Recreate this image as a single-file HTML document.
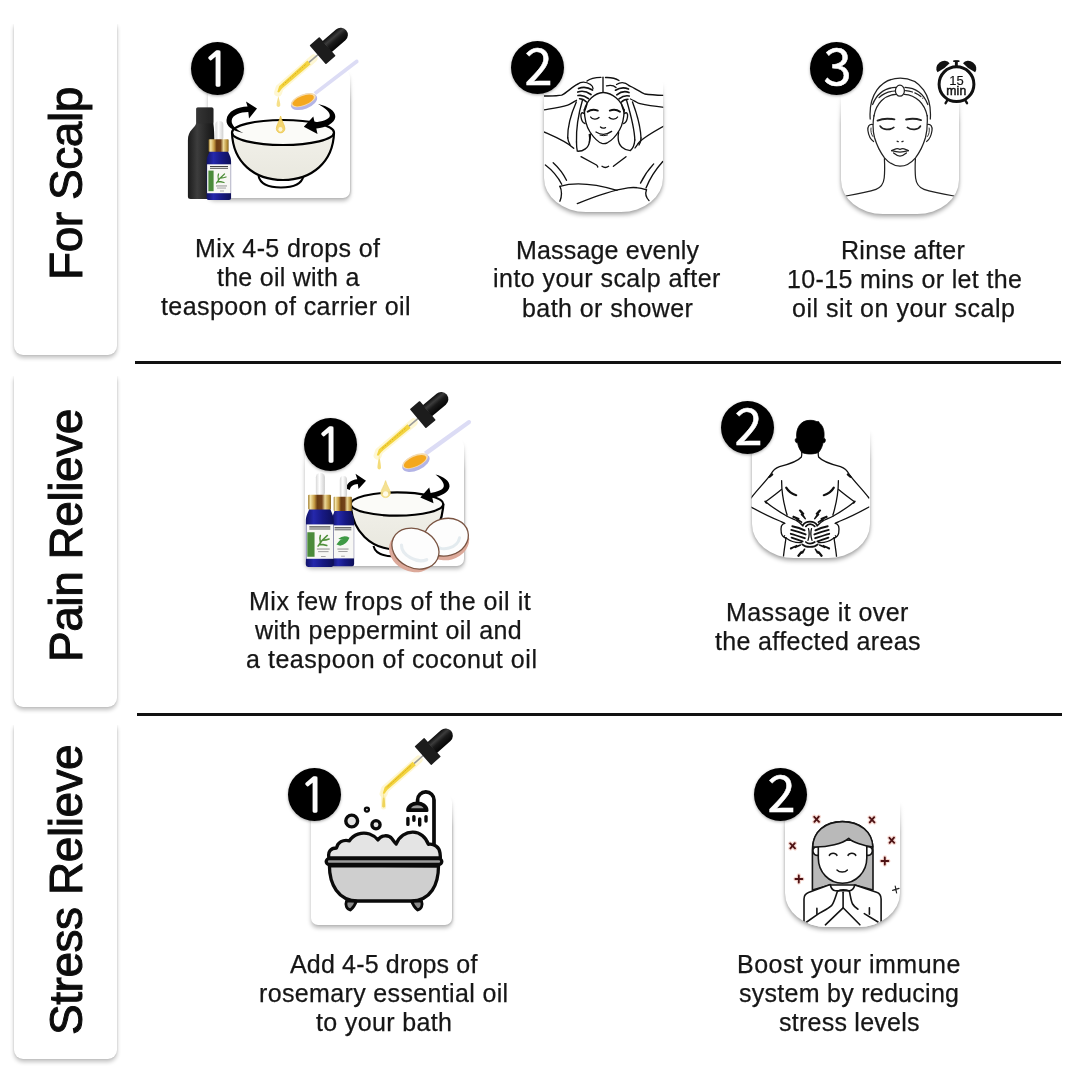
<!DOCTYPE html>
<html lang="en"><head><meta charset="utf-8"><title>How to use rosemary oil</title>
<style>
html,body{margin:0;padding:0;background:#fff}
body{width:1080px;height:1080px;position:relative;overflow:hidden;font-family:"Liberation Sans",Arial,sans-serif;color:#111}
.panel{position:absolute;left:14px;width:103px;background:#fff;border-radius:0 0 9px 9px;box-shadow:0 3px 4px rgba(0,0,0,.24),0 0 2px rgba(0,0,0,.13)}
.panel:before{content:"";position:absolute;left:-8px;right:-8px;top:-10px;height:10px;background:#fff}
.vl{will-change:transform;position:absolute;left:65px;white-space:nowrap;font-size:46px;line-height:46px;letter-spacing:-0.45px;transform-origin:0 0;transform:rotate(-90deg);color:#0c0c0c;-webkit-text-stroke:1px #0c0c0c}
.hr{position:absolute;height:3px;background:#111}
.t{position:absolute;white-space:nowrap;will-change:transform;font-size:25.0px;line-height:30px;color:#161616;-webkit-text-stroke:.25px #161616}
.num{position:absolute;width:53px;height:53px;border-radius:50%;background:#000;color:#fff;text-align:center;box-shadow:0 1px 3px rgba(0,0,0,.35)}
.num span{will-change:transform;position:absolute;left:0;width:53px;text-align:center;white-space:nowrap}
.n1 span{font-family:"NanumGothic","Liberation Sans",sans-serif;font-size:46.5px;line-height:53px;top:1.2px;margin-left:-.7px;opacity:.99;-webkit-text-stroke:1.6px #fff}
.n2 span,.n3 span{font-family:"Noto Sans CJK JP","Liberation Sans",sans-serif;font-size:50.5px;line-height:53px;top:-4.2px;margin-left:.8px;-webkit-text-stroke:.5px #fff}
.card{position:absolute;background:#fff}
.card:after{content:"";position:absolute;left:-8px;right:-8px;top:-8px;height:40px;background:linear-gradient(#fff 9px,rgba(255,255,255,0))}
.card.sq{border-radius:7px;box-shadow:0 3px 4px rgba(0,0,0,.27),1px 0 2px rgba(0,0,0,.16)}
.card.rd{border-radius:4px 4px 42px 42px / 4px 4px 34px 34px;box-shadow:0 3px 4px rgba(0,0,0,.30),0 0 3px rgba(0,0,0,.16)}
.ill{will-change:transform;position:absolute;left:0;top:0;width:1080px;height:1080px;pointer-events:none}
</style></head><body>
<div class="panel" style="top:24px;height:331px"></div>
<div class="panel" style="top:376px;height:331px"></div>
<div class="panel" style="top:725px;height:334px"></div>
<div class="vl" id="v1" style="top:280px;margin-left:-22.5px">For Scalp</div>
<div class="vl" id="v2" style="top:662px;margin-left:-22.5px">Pain Relieve</div>
<div class="vl" id="v3" style="top:1035px;margin-left:-22.5px">Stress Relieve</div>
<div class="hr" style="left:135px;width:926px;top:361px"></div>
<div class="hr" style="left:137px;width:925px;top:712.8px"></div>
<div class="card sq" style="left:208px;top:70px;width:142.3px;height:128.3px"></div><div class="card rd" style="left:544px;top:80px;width:119.2px;height:132.2px"></div><div class="card rd" style="left:840.7px;top:92px;width:118.6px;height:121.6px"></div><div class="card sq" style="left:305px;top:439px;width:159.3px;height:127.0px"></div><div class="card rd" style="left:751.5px;top:428px;width:118.0px;height:129.6px"></div><div class="card sq" style="left:310.5px;top:795px;width:141.9px;height:129.5px"></div><div class="card rd" style="left:785px;top:800px;width:115.2px;height:127.0px"></div>
<svg class="ill" viewBox="0 0 1080 1080">
<defs>
<linearGradient id="gBulb" x1="0" y1="0" x2="0" y2="1"><stop offset="0" stop-color="#0c0c0c"/><stop offset=".3" stop-color="#3c3c3c"/><stop offset=".55" stop-color="#1a1a1a"/><stop offset="1" stop-color="#050505"/></linearGradient>
<linearGradient id="gBlk" x1="0" y1="0" x2="1" y2="0"><stop offset="0" stop-color="#1b1b1b"/><stop offset=".35" stop-color="#3d3d3d"/><stop offset=".7" stop-color="#262626"/><stop offset="1" stop-color="#141414"/></linearGradient>
<linearGradient id="gBlue" x1="0" y1="0" x2="1" y2="0"><stop offset="0" stop-color="#121468"/><stop offset=".28" stop-color="#2528ac"/><stop offset=".6" stop-color="#171984"/><stop offset="1" stop-color="#0e1058"/></linearGradient>
<linearGradient id="gGold" x1="0" y1="0" x2="1" y2="0"><stop offset="0" stop-color="#a07a28"/><stop offset=".1" stop-color="#f3e4a8"/><stop offset=".27" stop-color="#c79c44"/><stop offset=".4" stop-color="#6a3c12"/><stop offset=".6" stop-color="#74431a"/><stop offset=".74" stop-color="#ecd898"/><stop offset=".9" stop-color="#bf9840"/><stop offset="1" stop-color="#86641f"/></linearGradient>
<linearGradient id="gWht" x1="0" y1="0" x2="1" y2="0"><stop offset="0" stop-color="#d8d8d8"/><stop offset=".4" stop-color="#ffffff"/><stop offset="1" stop-color="#cfcfcf"/></linearGradient>
<linearGradient id="gBowl" x1="0" y1="0" x2="0" y2="1"><stop offset="0" stop-color="#f1f0e9"/><stop offset="1" stop-color="#e9e8df"/></linearGradient>
<g id="dropper">
  <path d="M-12,0 L-57,0 L-61,2.4" fill="none" stroke="#fdf3bd" stroke-width="8" stroke-linecap="round" opacity=".65"/>
  <path d="M-6,0 L-20,0" stroke="#9a9a9a" stroke-width="1.6"/>
  <path d="M-18,-2.4 L-56,-1.7 L-61.4,1.6 L-60.4,3 L-55.4,1.9 L-18,2.4 Z" fill="#f3d440"/>
  <path d="M-22,-0.6 L-54,-0.2" stroke="#dcae1c" stroke-width=".9" stroke-dasharray="2 1.2"/>
  <rect x="-6.5" y="-12.5" width="13" height="25" rx=".8" fill="#1c1c1c"/>
  <path d="M6,-7.2 H24 A7.2,7.2 0 0 1 24,7.2 H6 Z" fill="url(#gBulb)"/>
</g>
<g id="ebottle">
  <rect x="8.6" y="-79" width="7.8" height="20" rx="3.6" fill="url(#gWht)"/>
  <path d="M0,-38.5 C0,-44 2.6,-46.5 3,-49 H21 C21.4,-46.5 24,-44 24,-38.5 V-2 Q24,0 22,0 H2 Q0,0 0,-2 Z" fill="url(#gBlue)"/>
  <rect x="2" y="-60.8" width="19.6" height="12.4" rx=".8" fill="url(#gGold)"/>
  <rect x=".5" y="-35.8" width="23.2" height="28.9" fill="#f8f8f5"/>
</g>
</defs>

<defs><clipPath id="c2"><path d="M544,40 H663.2 V178.2 A42,34 0 0 1 621.2,212.2 H586 A42,34 0 0 1 544,178.2 Z"/></clipPath><clipPath id="c3"><path d="M840.7,52 H959.3 V179.6 A42,34 0 0 1 917.3,213.6 H882.7 A42,34 0 0 1 840.7,179.6 Z"/></clipPath><clipPath id="c5"><path d="M751.5,388 H869.5 V523.6 A42,34 0 0 1 827.5,557.6 H793.5 A42,34 0 0 1 751.5,523.6 Z"/></clipPath><clipPath id="c7"><path d="M785,760 H900.2 V893 A42,34 0 0 1 858.2,927 H827 A42,34 0 0 1 785,893 Z"/></clipPath></defs>
<g id="i1">
  <!-- black carrier bottle -->
  <path d="M196.2,109 Q196.2,107.4 197.8,107.4 H211.8 Q213.4,107.4 213.4,109 V124 C214,128 214.3,133 214.3,139 V196.6 Q214.3,199.1 211.5,199.1 H190.7 Q187.9,199.1 187.9,196.6 V140.5 C187.9,129.5 195.2,128.5 196.2,123 Z" fill="url(#gBlk)"/><rect x="196.2" y="107.4" width="17.2" height="16" rx="1.4" fill="#2e2e2e" opacity=".55"/>
  <!-- rosemary bottle -->
  <use href="#ebottle" transform="translate(206.6,200.1) scale(1.02,1)"/>
  <rect x="208.4" y="170.6" width="5.2" height="20.6" fill="#4b8b3b"/>
  <path d="M216.5,183 q3,-5 8,-9 M218.5,180 q-1,-4 0,-6 M220.5,178 q3,0 5.5,-1 M217.5,181.5 q3.5,0 6.5,1" stroke="#4f8f3a" stroke-width="1.3" fill="none" stroke-linecap="round"/>
  <rect x="210" y="166" width="18" height="1.1" fill="#444"/><rect x="210" y="167.9" width="18" height="1" fill="#666"/>
  <rect x="216" y="185.5" width="11" height=".9" fill="#888"/><rect x="217" y="187.6" width="9" height=".9" fill="#999"/><rect x="220" y="190.6" width="4" height=".8" fill="#999"/>
  <!-- bowl -->
  <path d="M258.5,176 Q261,187.5 281,187.5 Q301,187.5 303.5,176" fill="#fff" stroke="#000" stroke-width="2"/>
  <path d="M232,133 C233,162 254,180 283,180 C312,180 333,162 334,133 Z" fill="url(#gBowl)" stroke="#000" stroke-width="2.2" stroke-linejoin="round"/>
  <ellipse cx="283" cy="132.5" rx="51" ry="12.5" fill="#fbfbf8" stroke="#000" stroke-width="2.2"/>
  <!-- arrows -->
  <path d="M243.5,133 C232,131 226,126 226.5,120 C227,111 238,106.8 247.5,106.5 L246,101.5 L257,108.5 L249,118.5 L248.3,112 C240,112 232.3,115 231.7,120.5 C231.2,125 236,129.5 243.5,133 Z" fill="#000"/>
  <path d="M318,104 C328,106 335.8,111 335.3,117 C334.8,123 326,127.5 316.3,128.6 L317.5,134 L303.8,126.7 L313.3,116.5 L314.6,122.3 C322,121.5 329.3,119.5 329.8,116 C330.3,112 325,108 318,104 Z" fill="#000"/>
  <!-- drops -->
  <path d="M280.6,116 C279,122 276.3,125.5 276.3,128.6 A4.3,4.3 0 0 0 284.9,128.6 C284.9,125.5 282.2,122 280.6,116 Z" fill="#f3d36a" stroke="#e9c23c" stroke-width=".7" opacity=".95"/>
  <ellipse cx="280.4" cy="129.3" rx="2" ry="2.4" fill="#fdf6d8"/>
  <path d="M278.3,96 C277.6,100 276.4,103 276.6,105.5 A1.9,1.9 0 0 0 280.3,105.5 C280.5,103 279.2,100 278.3,96 Z" fill="#f6e08a"/>
  <!-- spoon -->
  <path d="M313.6,92.2 L355.8,59.8 Q357.8,59 358.4,60.8 Q358.8,62 358.2,62.8 L316,95 Z" fill="#dcdcf5"/>
  <g transform="translate(303.6,100.6) rotate(-21)">
    <ellipse cx="0" cy="1.2" rx="13.8" ry="7.2" fill="#b3b4e6"/>
    <ellipse cx="0" cy="-.6" rx="13" ry="5.8" fill="#f6dcae"/>
    <ellipse cx="-.3" cy="-.2" rx="11.3" ry="4.6" fill="#f4a81f"/>
  </g>
  <use href="#dropper" transform="translate(322.6,50.6) rotate(-41)"/>
</g>

<g id="i2" clip-path="url(#c2)" fill="none" stroke="#111" stroke-width="1.35" stroke-linecap="round" stroke-linejoin="round">
  <!-- top hair -->
  <path d="M603,77.2 V91.5"/>
  <path d="M601,77.3 C595,77.3 590,78.5 587,81"/>
  <path d="M605.5,77.5 C611,77.3 616,78.5 619,80.5"/>
  <path d="M606.5,85.8 C610,85 614,85.5 616,87.5"/>
  <!-- hairline & face -->
  <path d="M603,92.5 C595,93 586.5,100 584.3,110.5"/>
  <path d="M603.5,92.5 C612,93 621.5,100 624,110.5"/>
  <path d="M584.3,109.5 C584.5,120 586,126 590,132 C594,138 599,142.5 602,143.4 Q604.5,144 607,143 C611,141 616,136 619.5,130 C623,124 624,118 624.2,109.5"/>
  <!-- ears -->
  <path d="M584,113.5 C581.5,111.5 580.5,114 581,117 C581.5,120.5 583,123 585,123.5"/>
  <path d="M624.5,113.5 C627,111.5 628,114 627.5,117 C627,120.5 625.5,123 623.7,123.5"/>
  <!-- brows -->
  <path d="M587.6,111.8 C590.5,109.6 594.5,109.4 597.8,110.6" stroke-width="1.9"/>
  <path d="M609.8,110.6 C613,109.4 617,109.6 620,111.8" stroke-width="1.9"/>
  <!-- eyes -->
  <path d="M590.6,117 C592.2,119.6 597,119.8 599,117.5"/>
  <path d="M609.2,117.5 C611.2,119.8 616,119.6 617.6,117"/>
  <!-- nose, mouth -->
  <path d="M600.5,127 Q602.5,129 605.5,127.6"/>
  <path d="M596,132 Q603.8,137 611.6,131.4"/>
  <path d="M600,135.2 Q603.8,136.4 607.5,135" stroke-width="1"/>
  <!-- long hair strands -->
  <path d="M582.5,100 C579,112 576,128 576.5,142"/>
  <path d="M576.3,102 C571,114 567.5,128 567.7,138"/>
  <path d="M587,104 C586,108 585,110 584.3,112"/>
  <path d="M626.5,100 C630,112 634.5,128 634.8,140"/>
  <path d="M632.5,102 C637,114 640.5,126 641,138"/>
  <path d="M621.5,104 C622.5,108 623.5,110 624,112"/>
  <path d="M567.7,137.5 C568,141 569,143 570,144.6"/>
  <path d="M576.5,142 C576.5,146 576.8,149 577.3,151.2 C583,151.5 589,148 589.5,141 C589.8,138 589.6,136 589.3,134.5"/>
  <path d="M634.8,140 C634.5,144 633,148.5 630.3,150.6 C624,150 618.5,146 618.2,138.6 C618,136 618.3,134 618.6,132.5"/>
  <path d="M641,138 C641,141 640,143.5 639,145"/>
  <!-- neck -->
  <path d="M590.5,134 C590.5,138 590,140 589.4,142.2"/>
  <!-- left hand fingers -->
  <path d="M577.3,84.4 C581,81.5 586,81.5 590.5,84.5" />
  <path d="M578.5,88.5 C583,86.5 588.5,87.5 592.5,90" stroke-width="1.7"/>
  <path d="M577.8,92 C582,90.5 587.5,92 591,94.5" stroke-width="1.7"/>
  <path d="M578,95.5 C581.5,94.8 585.5,96.2 588.5,98.6" stroke-width="1.7"/>
  <path d="M579.5,98.8 C582,98.8 584.5,100 586.5,102" stroke-width="1.5"/>
  <path d="M590.5,84.5 C592,85.5 593,86.8 593,88.5"/>
  <!-- right hand fingers -->
  <path d="M629,85.6 C625,82 620.5,82 616.5,84.5"/>
  <path d="M628.5,89 C624,87 619,88 615.5,90.2" stroke-width="1.7"/>
  <path d="M629,92.5 C625,91 620,92.3 616.8,94.8" stroke-width="1.7"/>
  <path d="M629.2,96 C625.5,95.2 622,96.5 619,98.8" stroke-width="1.7"/>
  <path d="M628,99.3 C625.5,99.3 623,100.3 621.2,102.2" stroke-width="1.5"/>
  <!-- arms -->
  <path d="M577.3,84.4 C572,87 567,92.5 561.7,95.2 C556,96.3 550,96 543,96"/>
  <path d="M576.5,100.3 C573,102 570,104.5 567.7,105.2 C560,107.5 552,108.5 543,110"/>
  <path d="M629,85.6 C634,87.5 640,92 644.7,94 C651,95 657,95.2 665,95.4"/>
  <path d="M630.5,99 C634,100.5 637,103 640,103.7 C648,105.5 656,106.5 665,107.5"/>
  <!-- armpits -->
  <path d="M543,131.5 C552,135.5 566,141 573.7,148.2"/>
  <path d="M665,125.5 C655,131 643,138 639,142.5 C637,145 636,146.5 635,148"/>
  <!-- collarbones -->
  <path d="M581,156.7 L596.5,165 Q597.6,166 597.8,167"/>
  <path d="M626,156.7 L613.4,166.3"/>
  <path d="M602,166.3 Q605.3,168.6 608.6,166.3"/>
  <!-- sides -->
  <path d="M545.4,165 C552,170 558,177 561.7,184.3"/>
  <path d="M553.2,162.7 C559,168 563.5,174 566.5,180.3"/>
  <path d="M662.8,161.5 C656,169 650,178 646,188"/>
  <path d="M653.7,163.9 C648,170 644,176 640.5,183.1"/>
  <!-- towel -->
  <path d="M559.9,186.3 C575,182 597,184.5 617,190.4"/>
  <path d="M646.5,189.8 C640,187.5 634,187 628,187.8 C610,190.5 592,197.5 577.3,203.6"/>
  <path d="M559.9,186.3 C562,190 562,197 559.9,201.2"/>
  <path d="M646.5,189.8 C645.3,193 646,197.5 649,200.6"/>
</g>

<g id="i3" clip-path="url(#c3)" fill="none" stroke="#222" stroke-width="1.25" stroke-linecap="round" stroke-linejoin="round">
  <!-- head outline / headband -->
  <path d="M870.2,119 C868.5,96 880,78.2 900.3,78.2 C920.5,78.2 932,96 930.3,119"/>
  <path d="M872.6,104.5 C877,93.5 885.5,87.8 895.6,87.4"/>
  <path d="M905,87.4 C915,87.8 923.5,93.5 927.8,104.5"/>
  <path d="M879,97.6 C883,93.5 888.5,91.4 895,91"/>
  <path d="M905.6,90.6 C912,91.2 918.5,93.8 922.8,98.2" stroke-dasharray="7 2.5"/>
  <path d="M874,116 C876,103.5 884.5,95 896,94.3"/>
  <path d="M904.3,94.3 C916,95 924.8,103.5 927.2,116"/>
  <ellipse cx="899.9" cy="90.7" rx="4.5" ry="5.5" fill="#fff"/>
  <!-- face -->
  <path d="M874,115.5 C872.5,124 872.8,131 874.5,137.5 C877,146 880.5,152.5 884.5,157.8 C889,163 895,166.2 900,166.2 C905,166.2 911,163 915.5,157.8 C919.5,152.5 923,146 925.5,137.5 C927.2,131 927.6,124 927.2,115.5"/>
  <!-- ears -->
  <path d="M872.6,124.5 C869.5,123.5 867.4,126.5 867.9,130.5 C868.5,135 870.5,139.5 873.6,141.5"/>
  <path d="M927.6,124.5 C930.5,123.5 932.6,126.5 932,130.5 C931.4,135 929.5,139.5 926.6,141.5"/>
  <path d="M871,128 C870.5,131 871.3,134.5 872.8,136.5" stroke-width=".9"/>
  <path d="M929.2,128 C929.7,131 929,134.5 927.5,136.5" stroke-width=".9"/>
  <!-- brows -->
  <path d="M877.6,120.6 C882,118.6 888.5,118.3 894.4,119.4" stroke-width="1.9"/>
  <path d="M906.1,119.5 C911,118.4 916.5,118.6 921,120.1" stroke-width="1.9"/>
  <!-- eyes -->
  <path d="M880.2,126.1 C882.5,130 889.5,130.5 893.8,127.4" stroke-width="1.7"/>
  <path d="M907.4,127.4 C911.5,130.5 918.5,130 920.4,126.1" stroke-width="1.7"/>
  <!-- nose -->
  <path d="M897.2,141.3 l1,.3 M902,141.6 l1,-.3" stroke-width="1.4"/>
  <!-- lips -->
  <path d="M891.6,150.6 C894,149.8 895.5,148.6 897.2,148.6 Q898.8,148.6 900,149.4 Q901.2,148.6 902.8,148.6 C904.5,148.6 906,149.8 908.4,150.6"/>
  <path d="M891.6,150.6 C895,151.6 897.5,152 900,152 C902.5,152 905,151.6 908.4,150.6"/>
  <path d="M893.6,153 C896,155 898,156 900,156 C902,156 904,155 906.4,153"/>
  <!-- neck & shoulders -->
  <path d="M884.4,158.5 C884.8,166 884.8,172 884.2,178 C883.5,184 881,187.5 876,189.3 C868,192 856,194.2 846,196"/>
  <path d="M915.4,158.5 C915,166 915,172 915.6,178 C916.3,184 919,187.5 924,189.3 C932,192 944,194.2 954,196"/>
</g>
<g id="clock">
  <circle cx="956.3" cy="84.7" r="19.6" fill="#fff"/>
  <path d="M-7.6,0 A7.6,6.6 0 0 1 7.6,0 Q0,1.6 -7.6,0 Z" fill="#111" transform="translate(956.3,84.7) rotate(-37) translate(0,-21.2)"/>
  <path d="M-7.6,0 A7.6,6.6 0 0 1 7.6,0 Q0,1.6 -7.6,0 Z" fill="#111" transform="translate(956.3,84.7) rotate(37) translate(0,-21.2)"/>
  <rect x="954.9" y="60.6" width="2.9" height="5.5" fill="#111"/>
  <rect x="953.2" y="60.2" width="6.3" height="1.8" rx=".6" fill="#111"/>
  <path d="M947.8,99.5 L945.6,103.2 M964.8,99.5 L967,103.2" stroke="#111" stroke-width="2.4" stroke-linecap="round"/>
  <circle cx="956.5" cy="84.2" r="17.4" fill="#fff" stroke="#111" stroke-width="3"/>
  <text x="956.4" y="84.5" text-anchor="middle" font-family="'Liberation Sans',Arial,sans-serif" font-size="13" fill="#111" stroke="#111" stroke-width=".15">15</text>
  <text x="956.3" y="95" text-anchor="middle" font-family="'Liberation Sans',Arial,sans-serif" font-size="12.2" fill="#111" stroke="#111" stroke-width=".45" letter-spacing=".2">min</text>
</g>

<g id="i4">
  <!-- bowl -->
  <path d="M373.5,546 Q376,556.5 395,556.5 Q414,556.5 417,546" fill="#fff" stroke="#000" stroke-width="2"/>
  <path d="M350.8,504.5 C351.8,531 371,549.5 397,549.5 C423,549.5 442.3,531 443.3,504.5 Z" fill="url(#gBowl)" stroke="#000" stroke-width="2.2" stroke-linejoin="round"/>
  <ellipse cx="397" cy="504" rx="46.3" ry="11.7" fill="#fbfbf8" stroke="#000" stroke-width="2.2"/>
  <!-- arrows -->
  <path d="M346,488.5 C347,483 351,480 357.3,479.3 L355.5,473.8 L366,480.8 L358.5,489 L357.8,484 C353.5,484.3 350.5,486.3 349.8,490 Z" fill="#000"/>
  <path d="M435.5,474.5 C443.5,476.5 450,481 449.5,486.5 C449,492 441,496.5 432.3,497.8 L433.5,503.3 L420.3,497.5 L429.2,487.5 L430.6,493 C437,492 443.3,490 443.8,486.3 C444.3,482.5 440.5,478.5 435.5,474.5 Z" fill="#000"/>
  <!-- drops -->
  <path d="M385.6,480.6 C384,486.3 380.8,490 380.8,493 A4.8,4.6 0 0 0 390.4,493 C390.4,490 387.2,486.3 385.6,480.6 Z" fill="#f5e08e" stroke="#ecd267" stroke-width=".6" opacity=".95"/>
  <ellipse cx="385.6" cy="493.8" rx="2.6" ry="2.6" fill="#fffbe8"/>
  <path d="M379.2,453 C378.7,459 377.4,465 377.5,468 A1.8,1.8 0 0 0 381,468 C381.1,465 379.8,459 379.2,453 Z" fill="#f4dc7a"/>
  <!-- coconuts -->
  <g transform="translate(446,537.2) rotate(-15)">
    <ellipse cx="0" cy="4" rx="22.4" ry="19" fill="#dca99a"/>
    <ellipse cx="0" cy="0" rx="22.6" ry="18.6" fill="#fdfdfd" stroke="#7a5442" stroke-width="1.3"/>
    <path d="M-12,5 C-8,13 8,14 13,4" fill="none" stroke="#e3ebef" stroke-width="3" stroke-linecap="round"/>
  </g>
  <g transform="translate(415.4,548.6) rotate(26)">
    <ellipse cx="-1.5" cy="4.4" rx="24" ry="19.4" fill="#dca99a"/>
    <ellipse cx="0" cy="0" rx="24.4" ry="19.4" fill="#fdfdfd" stroke="#7a5442" stroke-width="1.3"/>
    <path d="M-14,3 C-10,12 8,13 15,5" fill="none" stroke="#e6ecf0" stroke-width="3.2" stroke-linecap="round"/>
  </g>
  <!-- bottles -->
  <g transform="translate(331.8,566.3) scale(.93,1.143)"><use href="#ebottle"/>
    <path d="M5,-19 q5,-7 14,-6 q-3,6 -10,7 z M7,-24 q6,-4 12,-1 q-5,3 -12,1z" fill="#3f9a45"/>
    <rect x="3" y="-34.2" width="18" height="1" fill="#444"/><rect x="3" y="-32.4" width="18" height=".9" fill="#666"/>
    <rect x="6" y="-15.5" width="12" height=".8" fill="#888"/><rect x="7" y="-13.3" width="10" height=".8" fill="#999"/><rect x="10" y="-9.2" width="4" height=".7" fill="#999"/>
  </g>
  <g transform="translate(305.8,567) scale(1.167,1.19)"><use href="#ebottle"/>
    <rect x="1.3" y="-29.2" width="6.2" height="20.6" fill="#4b8b3b"/>
    <path d="M10.5,-17.5 q3,-5 8,-9 M12.5,-20.5 q-1,-4 0,-6 M14.5,-22.5 q3,0 5.5,-1 M11.5,-19 q3.5,0 6.5,1" stroke="#4f8f3a" stroke-width="1.3" fill="none" stroke-linecap="round"/>
    <rect x="3" y="-34.2" width="18" height="1" fill="#444"/><rect x="3" y="-32.4" width="18" height=".9" fill="#666"/>
    <rect x="9.5" y="-15.5" width="11" height=".8" fill="#888"/><rect x="10.5" y="-13.3" width="9" height=".8" fill="#999"/><rect x="13" y="-9.2" width="4" height=".7" fill="#999"/>
  </g>
  <!-- spoon -->
  <path d="M424,451.8 L468,420.2 Q470,419.4 470.8,421.2 Q471.2,422.6 470.6,423.6 L426.6,455.4 Z" fill="#dcdcf5"/>
  <g transform="translate(415.4,461.6) rotate(-24)">
    <ellipse cx="0" cy="1.3" rx="14.6" ry="7.6" fill="#b3b4e6"/>
    <ellipse cx="0" cy="-.6" rx="13.7" ry="6.1" fill="#f6dcae"/>
    <ellipse cx="-.3" cy="-.2" rx="12" ry="4.9" fill="#f4a81f"/>
  </g>
  <use href="#dropper" transform="translate(422.8,414.6) rotate(-40)"/>
</g>

<g id="i5" clip-path="url(#c5)" fill="none" stroke="#111" stroke-width="1.3" stroke-linecap="round" stroke-linejoin="round">
  <!-- head -->
  <path d="M801.8,452.5 C799.5,449.5 798,446 797.6,442.5 C796.2,443.5 795,441.5 795.3,439.5 C795.6,438.3 796.4,438.2 796.8,438.8 C795.5,428 800.5,420.3 810,420.3 C813.5,420.3 815.5,421 817,421.8 C818,421.2 819.2,421.5 819,422.6 C823.5,426 824.8,432 823.8,438.8 C824.3,438.2 825,438.3 825.3,439.5 C825.6,441.5 824.4,443.5 823,442.5 C822.6,446 821,449.5 818.5,452.5 C813,454.5 807,454.5 801.8,452.5 Z" fill="#000" stroke="#000" stroke-width=".8"/>
  <g id="i5h">
    <!-- neck, shoulder, outer arm -->
    <path d="M801.8,452.5 C801.8,454.5 801.8,456 801.4,457 C798,461 788,464.5 779.5,466.6 C775.5,468 772.5,471 770.8,474.3 C766,481 757,490 751,498"/>
    <path d="M769.6,476.8 l2.6,-2.4" stroke-width="2.2"/>
    <!-- torso side -->
    <path d="M781.6,480.6 C781.6,492 784,505 787.1,515"/>
    <path d="M786,537.8 C785,545 784,551 783.3,558"/>
    <!-- scapula -->
    <path d="M786.2,487.6 C788.5,491.5 792,494 796.2,495.2" stroke-width="2.2"/>
    <!-- inner arm / elbow -->
    <path d="M781.4,489.4 C776,494 770.5,498 765.5,501.7 C772,507 779.5,512 787.1,516.2"/>
    <path d="M765.2,501.5 l1.2,1.3" stroke-width="1.8"/>
    <!-- forearm outer -->
    <path d="M751,507 C761,512.5 772,518 781,521.5 C782.5,522.2 783.8,522.8 784.7,523.4"/>
    <!-- hand -->
    <path d="M784.7,523.4 C781,524 780.5,528 781.3,533 C782,536 784,537.5 786,538"/>
    <path d="M787.1,516.2 C790,518 793,518.5 795.5,520 C799,522 801.5,524 803,526"/>
    <path d="M792.3,526.2 C796.5,527 801,528.4 804.6,530.3" stroke-width="1.9"/>
    <path d="M791.3,529.9 C796,531 801,532.6 805.6,534.4" stroke-width="1.9"/>
    <path d="M790.8,533.8 C795.5,535 800,536.6 804.8,538.2" stroke-width="1.9"/>
    <path d="M791.6,537.6 C795.5,538.8 799,540.2 802.6,541.4" stroke-width="1.9"/>
    <path d="M786,538 C790,541 796,543 801.5,542.6"/>
    <path d="M784.6,535.5 C784.2,537 784.6,538.2 785.6,538.8" stroke-width="1"/>
    <!-- spine notch -->
    <path d="M808.5,528.6 C809.5,532 809.3,536.5 808,540.4"/>
    <!-- bolts -->
    <path d="M799.6,510.4 L802.6,514.2 L801.4,514.6 L805.2,518.6 M800.4,510.2 L803.6,513.8 L802.4,514.4 L805.2,518.6" stroke-width="1.5" fill="#111"/>
    <path d="M793,517 L797.6,518.8 L796.8,519.8 L801.6,522.2 M793.4,516.4 L798.8,518.6 L797.8,519.5 L801.6,522.2" stroke-width="1.5" fill="#111"/>
    <path d="M790.6,548.2 L795.6,546.2 L795.4,547.4 L800.4,545 M790.8,548.8 L796.6,545.6 L796.4,546.8 L800.4,545" stroke-width="1.5" fill="#111"/>
    <path d="M798,555.8 L801,552 L801.6,553.2 L804.6,549.2 M798.6,556.2 L802,551.6 L802.6,552.8 L804.6,549.2" stroke-width="1.5" fill="#111"/>
  </g>
  <use href="#i5h" transform="translate(1620,0) scale(-1,1)"/>
  <!-- pain arcs -->
  <path d="M802.8,525.2 C806,520.5 814,520.5 817.2,525.2" stroke-width="1.7"/>
  <path d="M805.8,526.4 C808,523.4 812,523.4 814.8,526.4" stroke-width="1.7"/>
  <path d="M802.2,544.3 C806,547.8 814,547.8 817.8,544.3" stroke-width="1.7"/>
  <path d="M805.8,542 C808,544.2 812,544.2 814.8,542" stroke-width="1.7"/>
</g>

<g id="i6" stroke-linecap="round" stroke-linejoin="round">
  <!-- shower -->
  <path d="M434,846 V800 A8.2,8.2 0 0 0 417.6,800 V803" fill="none" stroke="#0a0a0a" stroke-width="3.7"/>
  <path d="M407.6,810.6 C407.6,800.5 427,800.5 427,810.6 Z" fill="#0a0a0a" stroke="#0a0a0a" stroke-width="3"/><path d="M411,808.2 C412.5,804.3 422,804.3 423.6,808.2 Z" fill="#9a9a9a"/>
  <path d="M407.9,818.4 V824.4 M413.9,816.6 V820.3 M419.7,819 V825.1 M426,816.6 V821" fill="none" stroke="#0a0a0a" stroke-width="3.4"/>
  <!-- bubbles -->
  <circle cx="351.7" cy="821" r="5.9" fill="#e2e2e2" stroke="#0a0a0a" stroke-width="3.4"/>
  <circle cx="376" cy="824.7" r="4.1" fill="#e2e2e2" stroke="#0a0a0a" stroke-width="3.3"/>
  <circle cx="366.9" cy="809.6" r="2" fill="#eee" stroke="#0a0a0a" stroke-width="2.3"/>
  <!-- feet -->
  <path d="M346.5,901 C345,905 346.5,909.5 350.5,910 C353,908 355,905 356.5,901 Z" fill="#8a8a8a" stroke="#0a0a0a" stroke-width="2.8"/>
  <path d="M421.5,901 C423,905 421.5,909.5 417.5,910 C415,908 413,905 411.5,901 Z" fill="#8a8a8a" stroke="#0a0a0a" stroke-width="2.8"/>
  <!-- foam -->
  <path d="M329,858 C327.5,852 330.5,848 336.5,848 C337.5,842.5 343,839 349.5,840.8 C353,834.5 362,831.5 369.5,834 C373,835.2 375.8,837.2 378,840 C381,835 388.5,834.2 392,838.8 C393.3,840.6 394.5,842.4 396.2,844 C399,836.5 406,832 413,832.2 C420,832.4 426,837 428.3,844.3 C434,843.5 439.5,847 440,853 C440.2,855 440.4,856.5 440.4,858 Z" fill="#e4e4e4" stroke="#0a0a0a" stroke-width="3.3"/>
  <!-- tub -->
  <path d="M329.4,865.5 C329.4,884 338,901 358,901 H411 C431,901 438.5,884 438.5,866 Z" fill="#cfcfcf" stroke="#0a0a0a" stroke-width="3.3"/>
  <rect x="326.2" y="858.7" width="115.6" height="5.8" rx="2.9" fill="#9c9c9c" stroke="#0a0a0a" stroke-width="3.3"/>
  <!-- drop -->
  <path d="M383.4,791 C383,797 382.3,803 382.2,806.5 A1.6,1.6 0 0 0 385.2,806.5 C385.3,803 384.4,797 383.4,791 Z" fill="#f1d968"/>
  <path d="M383.6,792 V807" stroke="#fbf0b4" stroke-width="5" opacity=".6" fill="none"/>
  <path d="M383.4,791 C383,797 382.3,803 382.2,806.5 A1.6,1.6 0 0 0 385.2,806.5 C385.3,803 384.4,797 383.4,791 Z" fill="#efd45a"/>
  <use href="#dropper" transform="translate(427.7,751.5) rotate(-41.5)"/>
</g>

<g id="i7" clip-path="url(#c7)" fill="none" stroke="#141414" stroke-width="1.6" stroke-linecap="round" stroke-linejoin="round">
  <!-- hair back -->
  <path d="M812.4,890 V850 C812.4,832 825,821.6 842.4,821.6 C860,821.6 873,832 873,850 V890 L855,885 H830 Z" fill="#b9b9b9"/>
  <!-- ears -->
  <path d="M818.5,846.8 C814,846 812.6,849 813,851.5 C813.4,854 815.5,855.8 818.5,855.3" fill="#fff"/>
  <path d="M866.8,846.8 C871.3,846 872.7,849 872.3,851.5 C871.9,854 869.8,855.8 866.8,855.3" fill="#fff"/>
  <!-- face -->
  <path d="M818.3,846 V858 C818.3,872 829,883.2 842.5,883.2 C856,883.2 866.8,872 866.8,858 V846 C860,838 825,838 818.3,846 Z" fill="#fff"/>
  <!-- bangs -->
  <path d="M812.8,847 C813,832 825,821.6 842.4,821.6 C860,821.6 872.6,832 872.8,847 C864,846 853,842.5 848.7,838.4 C843,843.5 828,847.5 812.8,847 Z" fill="#b9b9b9"/>
  <!-- eyes / mouth -->
  <path d="M829.3,855.4 C830.5,852.4 835.8,852.4 837,855.4" stroke-width="1.5"/>
  <path d="M848,855.4 C849.2,852.4 854.6,852.4 855.8,855.4" stroke-width="1.5"/>
  <path d="M837,870 C839.5,872.8 845,872.8 847.4,870" stroke-width="1.5"/>
  <!-- body -->
  <path d="M804,930 V899 C804,895 806,893.5 808.5,892.6 L830.2,884.5 C831,888 832.5,890.5 835.5,890.8 H849.5 C852.5,890.5 854,888 854.8,885 L876.5,892.2 C879,893 881.1,895 881.1,899 V930 Z" fill="#fff"/>
  <!-- hands -->
  <path d="M837.6,890.8 C836,895 834.5,901.5 831.8,905.4 C828,909 822,911.5 817.6,914.3 L806,922.5"/>
  <path d="M843.1,892.2 V907.8"/>
  <path d="M849.4,891.2 C850.5,896 851,901 852.6,904 C854,906.5 856,908 858,909.2"/>
  <path d="M838.5,890.8 C840,889.6 846.5,889.6 848.5,890.8"/>
  <path d="M843.1,907.8 L825.4,924.8 M843.1,907.8 L859.9,924.8"/>
  <path d="M816.9,908.4 V914.3 M869.4,907.8 V914.3"/>
  <path d="M864.3,913.6 L878,922"/>
  <!-- sparkles -->
  <g stroke="#f3d0c8" stroke-width="4.2" opacity=".85">
    <path d="M814.2,816.8 l4.8,5 m-.2,-5.2 l-4.4,5.2 M869.6,817.4 l4.8,5 m-.2,-5.2 l-4.4,5.2 M790.2,843.4 l4.8,5 m-.2,-5.2 l-4.4,5.2 M889.4,837.8 l4.8,5 m-.2,-5.2 l-4.4,5.2 M881.4,861 h7 m-3.6,-3.6 v7.2 M795.4,879 h7 m-3.6,-3.6 v7.2"/>
  </g>
  <g stroke="#4e1214" stroke-width="1.85">
    <path d="M814.2,816.8 l4.8,5 m-.2,-5.2 l-4.4,5.2 M869.6,817.4 l4.8,5 m-.2,-5.2 l-4.4,5.2 M790.2,843.4 l4.8,5 m-.2,-5.2 l-4.4,5.2 M889.4,837.8 l4.8,5 m-.2,-5.2 l-4.4,5.2 M881.4,861 h7 m-3.6,-3.6 v7.2 M795.4,879 h7 m-3.6,-3.6 v7.2"/>
  </g>
  <path d="M892.6,890.4 l6.4,-2 m-3.8,-2.4 l1.4,7" stroke="#222" stroke-width="1.2"/>
</g>

</svg>
<div class="num n1" style="left:191.0px;top:41.5px"><span>1</span></div><div class="num n2" style="left:511.0px;top:40.8px"><span>2</span></div><div class="num n3" style="left:810.0px;top:41.5px"><span>3</span></div><div class="num n1" style="left:304.0px;top:418.0px"><span>1</span></div><div class="num n2" style="left:721.0px;top:400.8px"><span>2</span></div><div class="num n1" style="left:288.0px;top:767.8px"><span>1</span></div><div class="num n2" style="left:754.0px;top:768.0px"><span>2</span></div>
<div class="t" style="left:195.0px;top:233.4px;letter-spacing:0.38px">Mix 4-5 drops of</div><div class="t" style="left:217.0px;top:261.9px;letter-spacing:0.26px">the oil with a</div><div class="t" style="left:161.0px;top:291.4px;letter-spacing:0.42px">teaspoon of carrier oil</div><div class="t" style="left:515.5px;top:234.9px;letter-spacing:0.18px">Massage evenly</div><div class="t" style="left:493.0px;top:263.4px;letter-spacing:0.46px">into your scalp after</div><div class="t" style="left:522.0px;top:292.9px;letter-spacing:0.42px">bath or shower</div><div class="t" style="left:841.0px;top:235.4px;letter-spacing:0.29px">Rinse after</div><div class="t" style="left:787.0px;top:263.9px;letter-spacing:0.35px">10-15 mins or let the</div><div class="t" style="left:792.0px;top:293.4px;letter-spacing:0.52px">oil sit on your scalp</div><div class="t" style="left:248.8px;top:585.9px;letter-spacing:0.52px">Mix few frops of the oil it</div><div class="t" style="left:254.7px;top:614.7px;letter-spacing:0.44px">with peppermint oil and</div><div class="t" style="left:245.5px;top:644.3px;letter-spacing:0.54px">a teaspoon of coconut oil</div><div class="t" style="left:725.5px;top:596.9px;letter-spacing:0.42px">Massage it over</div><div class="t" style="left:715.0px;top:626.4px;letter-spacing:0.34px">the affected areas</div><div class="t" style="left:290.0px;top:948.9px;letter-spacing:0.17px">Add 4-5 drops of</div><div class="t" style="left:258.5px;top:977.9px;letter-spacing:0.35px">rosemary essential oil</div><div class="t" style="left:316.0px;top:1006.9px;letter-spacing:0.35px">to your bath</div><div class="t" style="left:737.0px;top:948.9px;letter-spacing:0.50px">Boost your immune</div><div class="t" style="left:739.0px;top:977.9px;letter-spacing:0.27px">system by reducing</div><div class="t" style="left:779.0px;top:1006.9px;letter-spacing:0.25px">stress levels</div>
</body></html>
